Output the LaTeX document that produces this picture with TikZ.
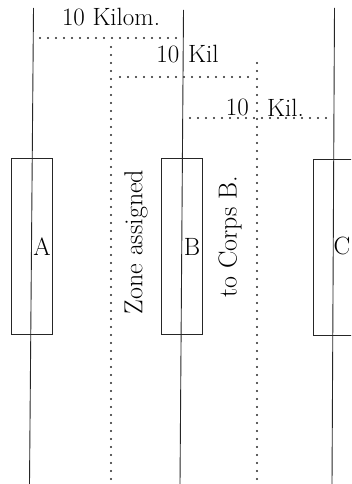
\documentclass[tikz,border=0pt]{standalone}
\begin{document}
\begin{tikzpicture}[x=1pt,y=-1pt,
  solid line/.style={line width=0.9pt,black!85},
  dotline/.style={line width=2.4pt,line cap=round,dash pattern=on 0pt off 8pt,black!85},
  unitbox/.style={draw,line width=0.9pt,black!85,minimum width=41pt,minimum height=176pt,inner sep=0pt},
  lbl/.style={font=\fontsize{25}{28}\selectfont,inner sep=0pt},
  rlbl/.style={font=\fontsize{26}{30}\selectfont,inner sep=0pt,rotate=90}]
\useasboundingbox (0,0) rectangle (351,484);
\begin{scope}
\clip (0,0) rectangle (351,484);
% unit boxes
\node[unitbox] (A) at (31.5,246) {};
\node[unitbox] (B) at (182,246.5) {};
\node[unitbox] (C) at (333.5,247) {};
% solid division lines
\coordinate (a1) at (33.5,8); \coordinate (a2) at (29.5,484);
\coordinate (b1) at (183.5,10); \coordinate (b2) at (180,484);
\coordinate (c1) at (334.5,8); \coordinate (c2) at (332,484);
\draw[solid line] (a1) -- (a2);
\draw[solid line] (b1) -- (b2);
\draw[solid line] (c1) -- (c2);
% unit labels
\node[lbl] (la) at (42,247) {A};
\node[lbl] (lb) at (192,247) {B};
\node[lbl,anchor=east] (lc) at (350.5,246) {C};
% dotted zone lines
\coordinate (h1s) at (40,38); \coordinate (h1e) at (178,38);
\coordinate (v1s) at (111,47); \coordinate (v1e) at (111,484);
\coordinate (h2s) at (120,77); \coordinate (h2e) at (250,77);
\coordinate (v2s) at (257,63); \coordinate (v2e) at (257,484);
\coordinate (h3s) at (190,118); \coordinate (h3e) at (330,118);
\draw[dotline] (h1s) -- (h1e);
\draw[dotline] (v1s) -- (v1e);
\draw[dotline] (h2s) -- (h2e);
\draw[dotline] (v2s) -- (v2e);
\draw[dotline] (h3s) -- (h3e);
% distance labels
\node[lbl] (k1) at (111,17) {10 Kilom.};
\node[lbl,anchor=east] (k2a) at (179.5,54) {10};
\node[lbl,anchor=west] (k2b) at (188,54) {Kil};
\node[lbl,anchor=east] (k3a) at (249,107) {10};
\node[lbl,anchor=west] (k3b) at (267,108) {Kil.};
% zone text
\node[rlbl] (z1) at (136,242) {Zone assigned};
\node[rlbl] (z2) at (230,237) {to Corps B.};
\end{scope}
\end{tikzpicture}
\end{document}
